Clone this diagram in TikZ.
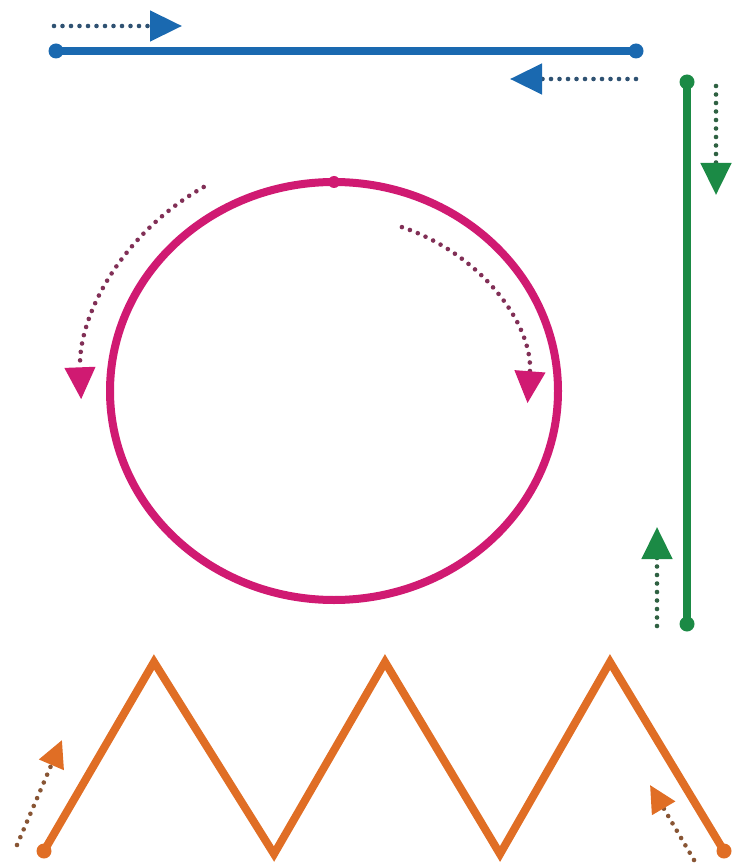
\documentclass[tikz,border=0pt]{standalone}
\usepackage{xcolor}
\usepackage{tikz}
\usetikzlibrary{arrows.meta}
\definecolor{trackblue}{HTML}{1A69B0}
\definecolor{trackgreen}{HTML}{1B8A45}
\definecolor{ringpink}{HTML}{D01A72}
\definecolor{zigorange}{HTML}{E06E25}

\begin{document}
\begin{tikzpicture}[x=1pt, y=1pt,
    track/.style={line width=8pt, draw=#1, line join=miter},
    endpt/.style={circle, fill=#1, inner sep=0pt, minimum size=15pt},
    dotarrow/.style={line width=4.6pt, line cap=round, dash pattern=on 0pt off 8.5pt,
      draw=#1!45!darkgray, -{Triangle[length=32pt, width=30pt, color=#1]}}]
    \useasboundingbox (0,0) rectangle (733,-866);
    % blue line
    \node[endpt=trackblue] (blueL) at (56,-51) {};
    \node[endpt=trackblue] (blueR) at (636,-51) {};
    \draw[track=trackblue] (blueL.center) -- (blueR.center);
    \coordinate (blueA) at (54,-26);
    \coordinate (blueB) at (182,-26);
    \coordinate (blueC) at (636,-79);
    \coordinate (blueD) at (510,-79);
    \draw[dotarrow=trackblue] (blueA) -- (blueB);
    \draw[dotarrow=trackblue] (blueC) -- (blueD);
    % green line
    \node[endpt=trackgreen] (greenT) at (687,-82) {};
    \node[endpt=trackgreen] (greenB) at (687,-624) {};
    \draw[track=trackgreen] (greenT.center) -- (greenB.center);
    \coordinate (greenA) at (716,-86);
    \coordinate (greenB2) at (716,-195);
    \coordinate (greenC) at (657,-626);
    \coordinate (greenD) at (657,-527);
    \draw[dotarrow=trackgreen] (greenA) -- (greenB2);
    \draw[dotarrow=trackgreen] (greenC) -- (greenD);
    % ring
    \coordinate (ringc) at (334,-391);
    \draw[track=ringpink] (ringc) ellipse [x radius=224, y radius=209];
    \node[endpt=ringpink, minimum size=12pt] (ringtop) at (334,-182) {};
    \coordinate (pinkL) at (203.7,-187);
    \coordinate (pinkR) at (401.9,-227.1);
    \draw[dotarrow=ringpink] (pinkL) arc[start angle=121, end angle=182, x radius=253, y radius=238];
    \draw[dotarrow=ringpink] (pinkR) arc[start angle=69.5, end angle=-4, x radius=194, y radius=175];
    % zigzag
    \node[endpt=zigorange] (zig0) at (44,-851) {};
    \coordinate (zig1) at (154,-662);
    \coordinate (zig2) at (274,-854);
    \coordinate (zig3) at (385,-662);
    \coordinate (zig4) at (500,-854);
    \coordinate (zig5) at (610,-662);
    \node[endpt=zigorange] (zig6) at (724,-851) {};
    \draw[track=zigorange] (zig0.center) -- (zig1) -- (zig2) -- (zig3) -- (zig4) -- (zig5) -- (zig6.center);
    \coordinate (orangeA) at (17,-845);
    \coordinate (orangeB) at (62,-740);
    \coordinate (orangeC) at (694,-860);
    \coordinate (orangeD) at (650,-785);
    \draw[dotarrow=zigorange, -{Triangle[length=27pt, width=26pt, color=zigorange]}] (orangeA) -- (orangeB);
    \draw[dotarrow=zigorange, -{Triangle[length=27pt, width=26pt, color=zigorange]}] (orangeC) -- (orangeD);
  \end{tikzpicture}
\end{document}
